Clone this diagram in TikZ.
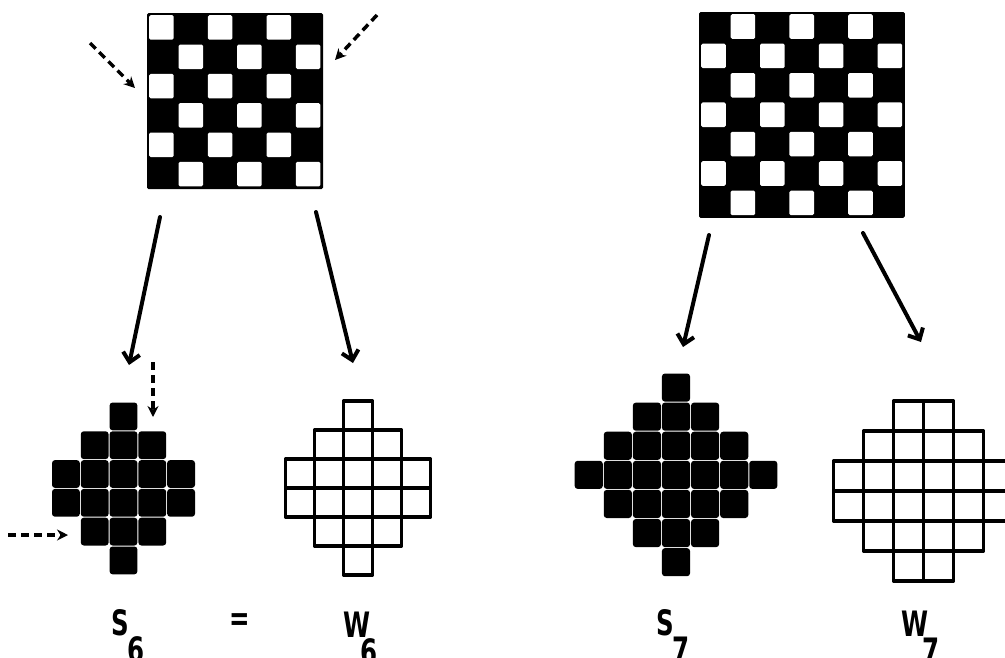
\documentclass[tikz,border=0pt]{standalone}
\usepackage{fontspec}
\setmainfont{DejaVu Sans}[FakeStretch=0.7]
\usetikzlibrary{arrows.meta,calc}

\begin{document}
\begin{tikzpicture}[
  x=1pt, y=-1pt,
  board/.style={fill=black, rounded corners=1.5pt, inner sep=0pt, minimum size=#1},
  wsq/.style={fill=white, rounded corners=1.5pt},
  scell/.style={fill=black, rounded corners=3pt},
  wcell/.style={draw=black, line width=3.2pt, line join=round},
  push/.style={-{Straight Barb[length=9pt,width=17pt,line width=4pt]}, line width=4pt, line cap=round},
  hint/.style={-{Stealth[length=11pt,width=11pt]}, line width=3.5pt, dash pattern=on 8pt off 5pt},
  lbl/.style={font=\fontsize{35}{38}\selectfont\bfseries, inner sep=0pt, anchor=base west},
]
\useasboundingbox (0,0) rectangle (1005,657);

% white squares of a board: name, size, parity, cell
\newcommand{\chesscells}[4]{%
  \foreach \r in {1,...,#2} \foreach \c in {1,...,#2} {
    \pgfmathtruncatemacro\odd{mod(\r+\c+#3,2)}
    \ifnum\odd=0
      \fill[wsq] ($(#1.north west)+(\c*#4-#4+2.4,\r*#4-#4+2.4)$) rectangle ++(#4-4.8,#4-4.8);
    \fi
  }}
% rows of cells: centre x, top y, cell, widths, style, inset
\newcommand{\cellrows}[6]{%
  \foreach \w [count=\r from 0] in {#4} \foreach \c in {1,...,\w} {
    \pgfmathsetmacro\xx{#1-\w*#3/2+(\c-1)*#3+#6}
    \pgfmathsetmacro\yy{#2+\r*#3+#6}
    \path[#5] (\xx,\yy) rectangle ++(#3-2*#6,#3-2*#6);
  }}
\newcommand{\sublbl}[3]{#1\kern#2pt\raisebox{-27pt}{#3}}

% ---------------- boards ----------------
\node[board=176pt] (boardA) at (235,101) {};
\chesscells{boardA}{6}{0}{29.33}
\node[board=205.8pt] (boardB) at (801.9,114.9) {};
\chesscells{boardB}{7}{1}{29.4}

% ---------------- cell patterns ----------------
\cellrows{123.5}{402}{28.8}{1,3,5,5,3,1}{scell}{0.5}
\cellrows{358}{401}{29}{1,3,5,5,3,1}{wcell}{0}
\cellrows{676}{373}{29.1}{1,3,5,7,5,3,1}{scell}{0.5}
\cellrows{923.5}{401}{30}{2,4,6,6,4,2}{wcell}{0}

% ---------------- arrows ----------------
\coordinate (pA1) at (160,217);  \coordinate (qA1) at (129,365);
\coordinate (pA2) at (316,212);  \coordinate (qA2) at (353,363);
\coordinate (pB1) at (709,235);  \coordinate (qB1) at (683,347);
\coordinate (pB2) at (863,233);  \coordinate (qB2) at (921,342);
\draw[push] (pA1) -- (qA1);
\draw[push] (pA2) -- (qA2);
\draw[push] (pB1) -- (qB1);
\draw[push] (pB2) -- (qB2);

% dashed hints
\coordinate (h1s) at (90,43);   \coordinate (h1e) at (135,88);
\coordinate (h2s) at (377,15);  \coordinate (h2e) at (335,60);
\coordinate (h3s) at (153,362); \coordinate (h3e) at (153,417);
\coordinate (h4s) at (8,535);   \coordinate (h4e) at (68,535);
\draw[hint] (h1s) -- (h1e);
\draw[hint] (h2s) -- (h2e);
\draw[hint] (h3s) -- (h3e);
\draw[hint] (h4s) -- (h4e);

% ---------------- labels ----------------
\node[lbl] (lS6) at (111,635) {\sublbl{S}{-1}{6}};
\node[lbl, anchor=center] (leq) at (240,622) {=};
\node[lbl] (lW6) at (343,637) {\sublbl{W}{-10}{6}};
\node[lbl] (lS7) at (656,635) {\sublbl{S}{-1}{7}};
\node[lbl] (lW7) at (901,636) {\sublbl{W}{-6}{7}};

\end{tikzpicture}
\end{document}
